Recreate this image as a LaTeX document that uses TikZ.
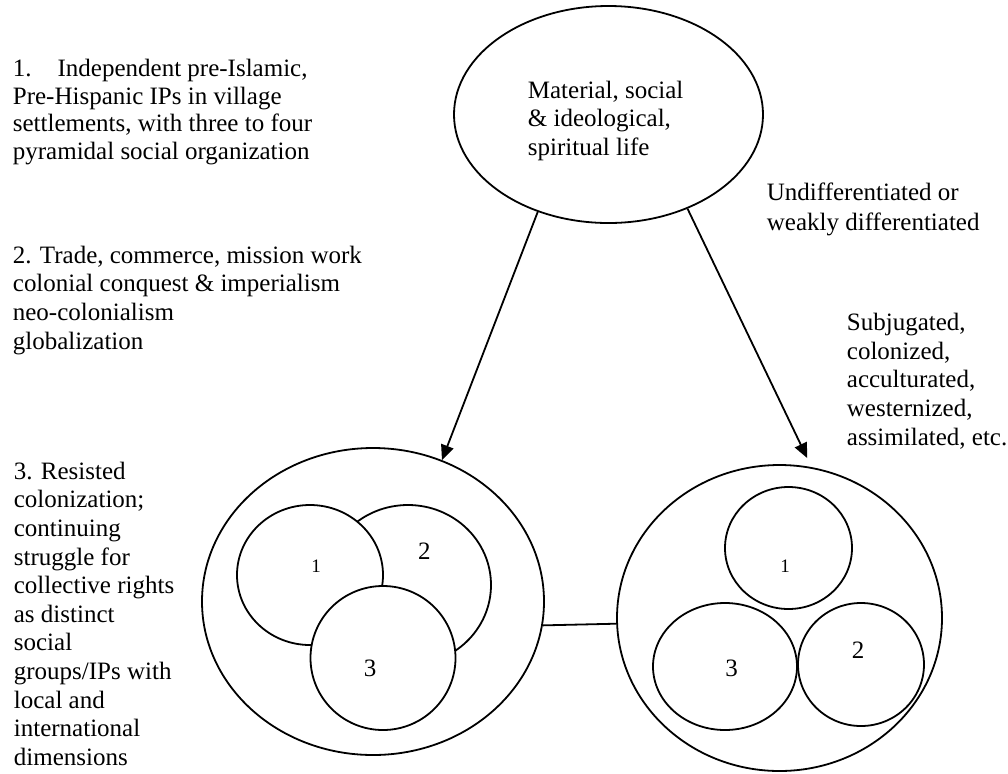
\documentclass[tikz,border=0pt]{standalone}
\usepackage{fontspec}
\setmainfont{Liberation Serif}
\usetikzlibrary{shapes.geometric,arrows.meta,positioning}

\begin{document}
\begin{tikzpicture}[x=0.5pt,y=-0.5pt,line width=0.9pt,
                    oval node/.style={ellipse,draw,fill=white,inner sep=0pt},
                    text node/.style={anchor=base west,align=left,inner sep=0pt,
                                      font=\fontsize{12.5pt}{14.3pt}\selectfont},
                    num node/.style={inner sep=0pt,font=\fontsize{12.5pt}{14.3pt}\selectfont},
                    small num/.style={inner sep=0pt,font=\fontsize{9.5pt}{11pt}\selectfont},
                    arrow/.style={-{Triangle[length=7.5pt,width=6.5pt]}}]

  \useasboundingbox (0,0) rectangle (1008,773);

  % left column notes (anchored at the last line)
  \node[text node,font=\fontsize{12.5pt}{13.75pt}\selectfont] (note1) at (12,159.2)
    {1.\hspace{13pt}Independent pre-Islamic,\\ Pre-Hispanic IPs in village\\
     settlements, with three to four\\ pyramidal social organization};
  \node[text node] (note2) at (12,349.1)
    {2. Trade, commerce, mission work\\ colonial conquest \& imperialism\\
     neo-colonialism\\ globalization};
  \node[text node] (note3) at (13,765.3)
    {3. Resisted\\ colonization;\\ continuing\\ struggle for\\ collective rights\\
     as distinct\\ social\\ groups/IPs with\\ local and\\ international\\ dimensions};

  % top ellipse
  \node[oval node,minimum width=154.5pt,minimum height=108.5pt] (top) at (608.5,114.5) {};
  \node[text node] (toptxt) at (527,155.5)
    {Material, social\\ \& ideological,\\ spiritual life};

  % right notes
  \node[text node,font=\fontsize{12.5pt}{15pt}\selectfont] (undiff) at (766,230)
    {Undifferentiated or\\ weakly differentiated};
  \node[text node] (subj) at (846,445.1)
    {Subjugated,\\ colonized,\\ acculturated,\\ westernized,\\ assimilated, etc.};

  % bottom ellipses
  \node[oval node,minimum width=171pt,minimum height=153.5pt] (lbig) at (373,601.5) {};
  \node[oval node,minimum width=162.5pt,minimum height=153pt] (rbig) at (779.5,618) {};

  % overlapping groups
  \node[oval node,minimum width=83pt,minimum height=80pt] (l2) at (408,585) {};
  \node[oval node,minimum width=73pt,minimum height=70pt] (l1) at (310,575) {};
  \node[oval node,minimum width=72.5pt,minimum height=72pt] (l3) at (383,658) {};
  \node[small num] (l1num) at (316,566) {1};
  \node[num node] (l2num) at (424.3,551) {2};
  \node[num node] (l3num) at (370,668) {3};

  % separate groups
  \node[oval node,minimum width=63.5pt,minimum height=61pt] (r1) at (788.5,548) {};
  \node[oval node,minimum width=72pt,minimum height=63.5pt] (r3) at (725,666.5) {};
  \node[oval node,minimum width=63pt,minimum height=61.5pt] (r2) at (861,664.5) {};
  \node[small num] (r1num) at (785,566) {1};
  \node[num node] (r2num) at (858,650) {2};
  \node[num node] (r3num) at (731.5,668) {3};

  \draw[arrow] (top.234) -- (lbig.64);
  \draw[arrow,shorten >=5pt] (top.310) -- (rbig.78);
  \draw (lbig.352) -- (rbig.182);

\end{tikzpicture}
\end{document}
